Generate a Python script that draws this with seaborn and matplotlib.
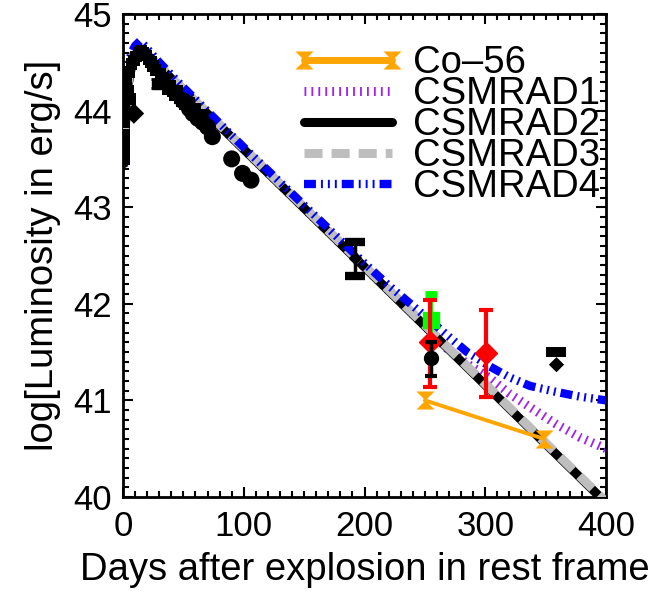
import matplotlib
matplotlib.use('Agg')
import matplotlib.pyplot as plt
import seaborn as sns
import pandas as pd
from matplotlib.ticker import MultipleLocator

sns.set_theme(style="ticks")
plt.rcParams['font.family'] = ['Liberation Sans', 'DejaVu Sans']
plt.rcParams['lines.scale_dashes'] = False
plt.rcParams['text.color'] = 'black'
plt.rcParams['axes.labelcolor'] = 'black'

# model light curves (day, log L)
black_days = [0.5, 2, 4, 7, 10, 14, 18, 50, 100, 150, 200, 250, 300, 350, 400]
black_lum = [43.45, 43.85, 44.25, 44.45, 44.55, 44.62, 44.6, 44.21, 43.6, 42.99, 42.38, 41.77, 41.16, 40.55, 39.94]

gray_days = [0.5, 2, 4, 7, 10, 14, 18, 50, 100, 150, 200, 250, 300, 350, 400]
gray_lum = [43.7, 43.95, 44.28, 44.46, 44.56, 44.62, 44.61, 44.22, 43.61, 43.0, 42.39, 41.78, 41.17, 40.56, 39.95]

purple_days = [0.5, 2, 4, 7, 10, 14, 18, 50, 100, 150, 200, 250, 268, 285, 304, 320, 337, 358, 378, 400]
purple_lum = [43.42, 44.0, 44.42, 44.55, 44.6, 44.62, 44.6, 44.21, 43.6, 42.99, 42.38, 41.77, 41.54, 41.38, 41.23, 41.07, 40.93, 40.76, 40.62, 40.5]

blue_days = [0.5, 2, 4, 7, 10, 14, 18, 30, 50, 100, 150, 200, 220, 240, 255, 268, 285, 304, 320, 337, 358, 378, 400]
blue_lum = [43.85, 44.15, 44.45, 44.6, 44.67, 44.72, 44.67, 44.5, 44.24, 43.62, 43.02, 42.42, 42.19, 41.98, 41.82, 41.68, 41.5, 41.35, 41.24, 41.15, 41.09, 41.04, 41.0]

co56_days = [250, 349]
co56_lum = [41.0, 40.6]

# early photometry
sq_days = [0.8, 0.8, 0.8, 1.0, 1.2, 1.5, 3, 4, 5, 6, 7, 9, 11, 13, 15, 17, 19, 21, 23, 25, 27,
           31, 33, 35, 37, 39, 41, 43, 45, 47, 49, 51, 55, 60, 65]
sq_lum = [43.5, 43.62, 43.75, 43.88, 44.0, 44.12, 44.3, 44.2, 44.4, 44.12, 44.48, 44.52, 44.56,
          44.6, 44.62, 44.6, 44.57, 44.53, 44.5, 44.46, 44.42, 44.38, 44.33, 44.28, 44.22, 44.26,
          44.2, 44.16, 44.2, 44.13, 44.1, 44.07, 44.08, 44.02, 43.96]
circ_days = [50, 55, 58, 62, 66, 70, 74, 90, 99, 106]
circ_lum = [44.1, 44.02, 43.97, 43.92, 43.88, 43.83, 43.73, 43.5, 43.35, 43.28]
diam_days = [9]
diam_lum = [43.97]

# points with error bars
early_err_days = [28]
early_err_lum = [44.28]
early_err = [0.05]

mid_days = [192]
mid_lum = [42.47]
mid_lo = [0.18]
mid_hi = [0.17]

circ_err_days = [255]
circ_err_lum = [41.44]
circ_err_lo = [0.19]
circ_err_hi = [0.16]

red_days = [254, 301]
red_lum = [41.6, 41.49]
red_lo = [0.46, 0.45]
red_hi = [0.44, 0.45]

green_days = [255]
green_lum = [41.83]
green_lo = [0.25]
green_hi = [0.27]

lim_days = [359]
lim_lum = [41.5]
lim_arrow = [41.37]

fig = plt.figure(figsize=(6.65, 5.92), dpi=100)
ax = fig.add_axes([123 / 665, 1 - 497 / 592, 483 / 665, 483 / 592])

hourglass = [(-1, 1), (1, 1), (-1, -1), (1, -1)]

sns.lineplot(x=co56_days, y=co56_lum, ax=ax, color='#FFA500', linewidth=2.8,
             marker=hourglass, markersize=13, markeredgewidth=0, sort=False,
             label='Co\u201356', zorder=6)
sns.lineplot(x=purple_days, y=purple_lum, ax=ax, color='#A020F0', linewidth=6.5,
             linestyle=(0, (1.3, 3.7)), sort=False, label='CSMRAD1', zorder=2)
sns.lineplot(x=black_days, y=black_lum, ax=ax, color='black', linewidth=6.5,
             sort=False, label='CSMRAD2', zorder=3)
sns.lineplot(x=gray_days, y=gray_lum, ax=ax, color='#BEBEBE', linewidth=6.5,
             linestyle=(0, (13, 6.5)), sort=False, label='CSMRAD3', zorder=4)
sns.lineplot(x=blue_days, y=blue_lum, ax=ax, color='#0000FF', linewidth=6,
             linestyle=(0, (8.6, 3.6, 1.4, 3.6, 1.4, 3.6, 1.4, 3.6)), sort=False,
             label='CSMRAD4', zorder=5)

sns.scatterplot(x=sq_days, y=sq_lum, ax=ax, marker='s', s=70, color='black',
                edgecolor='none', zorder=7)
sns.scatterplot(x=circ_days, y=circ_lum, ax=ax, marker='o', s=150, color='black',
                edgecolor='none', zorder=7)
sns.scatterplot(x=diam_days, y=diam_lum, ax=ax, marker='D', s=110, color='black',
                edgecolor='none', zorder=7)

ax.errorbar(early_err_days, early_err_lum, yerr=early_err, fmt='s', color='black',
            markersize=7, elinewidth=2, capsize=4, capthick=2, zorder=8)
ax.errorbar(green_days, green_lum, yerr=[green_lo, green_hi], fmt='s', color='#00FF00',
            markersize=11, elinewidth=3, capsize=4, capthick=5, zorder=8)
ax.errorbar(red_days, red_lum, yerr=[red_lo, red_hi], fmt='D', color='#FF0000',
            markersize=11, elinewidth=3, capsize=5, capthick=3, zorder=9)
ax.errorbar(circ_err_days, circ_err_lum, yerr=[circ_err_lo, circ_err_hi], fmt='o',
            color='black', markersize=10, elinewidth=2.5, capsize=4, capthick=3, zorder=10)
ax.errorbar(mid_days, mid_lum, yerr=[mid_lo, mid_hi], fmt='D', color='black',
            markersize=6, elinewidth=2.5, capsize=7, capthick=6, zorder=10)
ax.errorbar(lim_days, lim_lum, yerr=[[0], [0]], fmt='none', ecolor='black',
            capsize=7, capthick=7, zorder=10)
sns.scatterplot(x=lim_days, y=lim_arrow, ax=ax, marker='D', s=60, color='black',
                edgecolor='none', zorder=10)

ax.set_xlim(0, 400)
ax.set_ylim(40, 45)
ax.xaxis.set_major_locator(MultipleLocator(100))
ax.xaxis.set_minor_locator(MultipleLocator(10))
ax.yaxis.set_major_locator(MultipleLocator(1))
ax.yaxis.set_minor_locator(MultipleLocator(0.1))
ax.tick_params(which='both', direction='in', top=True, right=True, width=1.5,
               colors='black', labelsize=25)
ax.tick_params(which='major', length=7)
ax.tick_params(which='minor', length=4)
ax.tick_params(axis='x', pad=9)
ax.tick_params(axis='y', pad=8)
for sp in ax.spines.values():
    sp.set_linewidth(2)
    sp.set_color('black')

ax.set_xlabel('Days after explosion in rest frame', fontsize=27.5, labelpad=7)
ax.set_ylabel('log[Luminosity in erg/s]', fontsize=27.5, labelpad=9)

leg = ax.legend(loc='upper left', bbox_to_anchor=(293 / 665, 1 - 45 / 592),
                bbox_transform=fig.transFigure, frameon=False, fontsize=27.5,
                handlelength=2.9, handletextpad=0.25, labelspacing=-0.13,
                borderpad=0, borderaxespad=0, numpoints=2)
leg.legend_handles[0].set_linewidth(5)
leg.set_zorder(20)

fig.savefig('out.png', dpi=100)
